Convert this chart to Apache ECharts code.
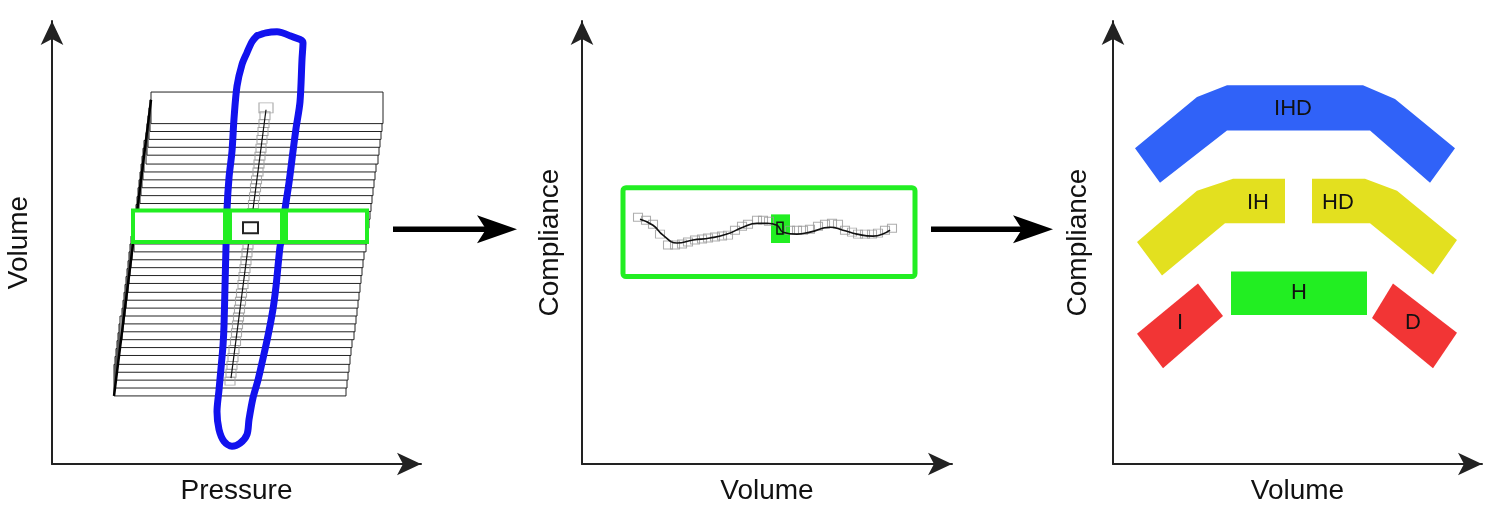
<!DOCTYPE html>
<html><head><meta charset="utf-8">
<script src="https://cdn.jsdelivr.net/npm/echarts@6/dist/echarts.min.js"></script>
<style>html,body{margin:0;padding:0;background:#fff}#c{width:1504px;height:510px}</style>
</head><body><div id="c"></div>
<script>
// ---------- axis titles ----------
const xNames = ['Pressure', 'Volume', 'Volume'];
const yNames = ['Volume', 'Compliance', 'Compliance'];
const axisSpan = [[369, 449], [370, 449], [369, 449]];

// ---------- panel 1 : pressure-volume ----------
// stacked pressure bands, listed bottom-up (top volume, left pressure)
const bandTops = [101,109,117,125,133,142,150,158,166,174,182,190,198,206,215,223,231,239,247,255,263,271,280,288,296,304,312,320,328,336,345,353,361,369,377];
const bandLefts = [62,63,64,65,66,67,68,70,71,72,73,74,75,76,77,78,79,80,82,83,84,85,86,87,88,89,90,91,92,94,95,96,97,98,99];
const bandWidth = 232;
const bandHeight = 32;
const bandLeftEdge = [[62,69],[99,369]];

// blue pressure-volume loop
const loopPoints = [[205,434],[214,437],[225,438],[238,434],[251,427],[250,410],[248,367],[244,340],[241,317],[237,285],[233,258],[230,230],[228,220],[224,180],[221,157],[216,130],[211,107],[206,85],[201,67],[197,45],[195,30],[188,21],[180,18],[172,23],[167,35],[165,53],[167,75],[169,97],[171,120],[172,140],[173,180],[174,220],[175,258],[177,290],[180,317],[182,350],[185,383],[190,405],[195,417],[200,428],[205,434]];

// chain of grey sample squares and its fitted line
const chainPoints = [[214,361],[213,353],[212,345],[211,337],[210,329],[209,320],[208,312],[207,304],[206,296],[204.5,288],[203.5,280],[202.5,271],[201.5,263],[200.5,255],[199.5,247],[198.5,239],[197,231],[196,222],[195,214],[194,206],[193,198],[192,190],[191,182],[189.5,173],[188.5,165],[187.5,157],[186.5,149],[185.5,141],[184.5,133],[183.5,124],[182,116],[181,108],[180,100],[179,92],[178,84]];
const chainLine = [[214,359],[179,87]];

// selection box [x0, yTop, x1, yBottom] and loop crossings
const selectBox1 = [81, 257, 315, 225];
const crossBars1 = [[171, 180], [228, 236]];
const marker1 = [191, 245, 206, 234];

// ---------- panel 2 : compliance-volume ----------
const curvePoints = [[58,248],[71,242],[81,232],[95,224],[111,227],[128,229],[145,233],[161,240],[175,244],[185,244],[195,242],[201,235],[215,233],[228,235],[248,240],[261,237],[275,233],[291,231],[308,237]];
const curveSquares = [[56,250],[64,247],[71,243],[78,233],[86,222],[93,222],[100,223],[106,225],[113,227],[120,228],[126,229],[133,230],[140,231],[146,232],[153,237],[160,241],[166,243],[175,247],[181,247],[187,246],[208,237],[215,237],[221,237],[228,238],[236,241],[243,243],[250,244],[256,243],[263,237],[270,235],[276,233],[283,233],[290,233],[296,234],[303,237],[310,239]];
const selectBox2 = [41, 280, 333, 190];
const highlight2 = [189, 253, 208, 224];
const marker2 = [195, 245, 201, 233];

// ---------- panel 3 : classification regions ----------
const shapeIHD = [[22,320],[84,372],[114,384],[250,384],[282,370],[342,320],[317,285],[257,338],[114,338],[47,285]];
const shapeIH = [[24,225],[84,277],[120,289],[172,289],[172,244],[112,244],[49,191]];
const shapeHD = [[199,289],[252,289],[284,277],[344,227],[320,192],[257,244],[199,244]];
const shapeH = [[118,195],[254,195],[254,151],[118,151]];
const shapeI = [[24,132],[85,183],[110,150],[50,97]];
const shapeD = [[259,148],[280,183],[344,133],[320,97]];
const regionNames = ['IHD', 'IH', 'HD', 'H', 'I', 'D'];
const regionLabelPos = [[180,360],[145,265],[225,265],[186,173],[67,143],[300,143]];

// ---------- arrows between panels ----------
const arrow1 = [[341,238],[465,238]];
const arrow2 = [[349,238],[471,238]];

const GREEN = '#22ee22';
const FONT = '"Liberation Sans", Arial, sans-serif';

function axisCommon(i, name, gap, max) {
  return {
    type: 'value', gridIndex: i, min: 0, max: max,
    name: name, nameLocation: 'middle', nameGap: gap,
    nameTextStyle: { fontSize: 28, color: '#111', fontFamily: FONT },
    axisLine: { show: true, onZero: false, symbol: ['none', 'arrow'], symbolSize: [17, 24],
      lineStyle: { color: '#222', width: 2 } },
    axisTick: { show: false }, axisLabel: { show: false }, splitLine: { show: false }
  };
}

function rectSeries(g, box, style, z) {
  return {
    type: 'custom', xAxisIndex: g, yAxisIndex: g, z: z, data: [[0, 0]],
    renderItem: function (params, api) {
      const a = api.coord([box[0], box[1]]);
      const b = api.coord([box[2], box[3]]);
      return { type: 'rect', shape: { x: a[0], y: a[1], width: b[0] - a[0], height: b[1] - a[1], r: style.r || 0 },
        style: { fill: style.fill || 'none', stroke: style.stroke || null, lineWidth: style.lineWidth || 0 } };
    }
  };
}

function polySeries(g, pts, color, label, pos, z) {
  return {
    type: 'custom', xAxisIndex: g, yAxisIndex: g, z: z, data: [[0, 0]],
    renderItem: function (params, api) {
      const c = api.coord(pos);
      return { type: 'group', children: [
        { type: 'polygon', shape: { points: pts.map(function (p) { return api.coord(p); }) }, style: { fill: color } },
        { type: 'text', style: { text: label, x: c[0], y: c[1], fill: '#111', font: '22px ' + FONT, align: 'center', verticalAlign: 'middle' } }
      ] };
    }
  };
}

function arrowSeries(g, seg) {
  return {
    type: 'custom', xAxisIndex: g, yAxisIndex: g, z: 10, clip: false, data: [[0, 0]],
    renderItem: function (params, api) {
      const a = api.coord(seg[0]);
      const b = api.coord(seg[1]);
      return { type: 'group', children: [
        { type: 'line', shape: { x1: a[0], y1: a[1], x2: b[0] - 30, y2: b[1] }, style: { stroke: '#000', lineWidth: 5.5 } },
        { type: 'polygon', shape: { points: [[b[0], b[1]], [b[0] - 40, b[1] - 14], [b[0] - 31, b[1]], [b[0] - 40, b[1] + 14]] }, style: { fill: '#000' } }
      ] };
    }
  };
}

const bandData = bandTops.map(function (t, i) { return [bandLefts[i], t, bandLefts[i] + bandWidth, t - bandHeight]; });

const series = [
  // panel 1
  {
    type: 'custom', xAxisIndex: 0, yAxisIndex: 0, z: 1, data: bandData,
    renderItem: function (params, api) {
      const a = api.coord([api.value(0), api.value(1)]);
      const b = api.coord([api.value(2), api.value(3)]);
      return { type: 'rect', shape: { x: a[0], y: a[1], width: b[0] - a[0], height: b[1] - a[1] },
        style: { fill: '#fff', stroke: '#222', lineWidth: 1 } };
    }
  },
  {
    type: 'line', xAxisIndex: 0, yAxisIndex: 0, z: 2, data: bandLeftEdge, symbol: 'none',
    lineStyle: { color: '#000', width: 2.5 }
  },
  {
    type: 'scatter', xAxisIndex: 0, yAxisIndex: 0, z: 2, symbol: 'rect',
    data: chainPoints.map(function (p, i) { return { value: p, symbolSize: i === 0 ? [14, 10] : [10, 8] }; }),
    itemStyle: { color: 'rgba(255,255,255,0)', borderColor: '#999', borderWidth: 1 },
    silent: true
  },
  {
    type: 'line', xAxisIndex: 0, yAxisIndex: 0, z: 3, data: chainLine, symbol: 'none',
    lineStyle: { color: '#111', width: 1.2 }
  },
  {
    type: 'line', xAxisIndex: 0, yAxisIndex: 0, z: 4, data: loopPoints, symbol: 'none', smooth: 0.3,
    lineStyle: { color: '#1212ee', width: 7, cap: 'round', join: 'round' }
  },
  rectSeries(0, selectBox1, { fill: '#fff', stroke: GREEN, lineWidth: 4 }, 5),
  rectSeries(0, [crossBars1[0][0], selectBox1[1], crossBars1[0][1], selectBox1[3]], { fill: GREEN }, 6),
  rectSeries(0, [crossBars1[1][0], selectBox1[1], crossBars1[1][1], selectBox1[3]], { fill: GREEN }, 6),
  rectSeries(0, marker1, { stroke: '#222', lineWidth: 2 }, 7),
  arrowSeries(0, arrow1),
  // panel 2
  rectSeries(1, selectBox2, { stroke: GREEN, lineWidth: 5, r: 3 }, 1),
  rectSeries(1, highlight2, { fill: GREEN }, 2),
  {
    type: 'scatter', xAxisIndex: 1, yAxisIndex: 1, z: 3, symbol: 'rect', symbolSize: [9, 8],
    data: curveSquares,
    itemStyle: { color: 'rgba(255,255,255,0)', borderColor: '#999', borderWidth: 1 },
    silent: true
  },
  {
    type: 'line', xAxisIndex: 1, yAxisIndex: 1, z: 4, data: curvePoints, symbol: 'none', smooth: true,
    lineStyle: { color: '#111', width: 1.6 }
  },
  rectSeries(1, marker2, { stroke: '#111', lineWidth: 1.5 }, 5),
  arrowSeries(1, arrow2),
  // panel 3
  polySeries(2, shapeIHD, '#3062f8', regionNames[0], regionLabelPos[0], 2),
  polySeries(2, shapeIH, '#e3e01f', regionNames[1], regionLabelPos[1], 2),
  polySeries(2, shapeHD, '#e3e01f', regionNames[2], regionLabelPos[2], 2),
  polySeries(2, shapeH, GREEN, regionNames[3], regionLabelPos[3], 2),
  polySeries(2, shapeI, '#f23535', regionNames[4], regionLabelPos[4], 2),
  polySeries(2, shapeD, '#f23535', regionNames[5], regionLabelPos[5], 2)
];

const chart = echarts.init(document.getElementById('c'), null, { renderer: 'canvas' });
chart.setOption({
  backgroundColor: '#fff',
  animation: false,
  grid: [
    { left: 52, top: 21, width: axisSpan[0][0], height: axisSpan[0][1] },
    { left: 582, top: 21, width: axisSpan[1][0], height: axisSpan[1][1] },
    { left: 1113, top: 21, width: axisSpan[2][0], height: axisSpan[2][1] }
  ],
  xAxis: [0, 1, 2].map(function (i) { return axisCommon(i, xNames[i], 13, axisSpan[i][0]); }),
  yAxis: [0, 1, 2].map(function (i) { return axisCommon(i, yNames[i], [19, 18, 21][i], axisSpan[i][1]); }),
  series: series
});
</script></body></html>
